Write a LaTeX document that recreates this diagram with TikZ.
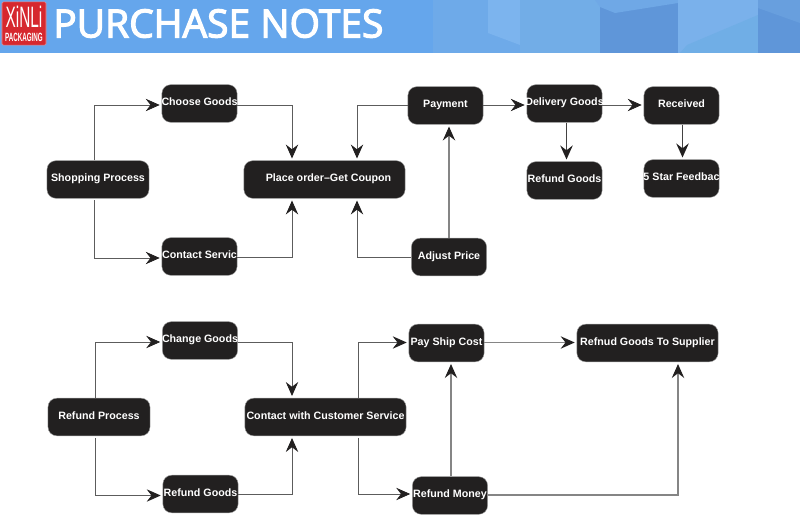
\documentclass[tikz,border=0pt]{standalone}
\usepackage{fontspec}
\setmainfont{Liberation Sans}
\newfontfamily\headfont[FakeBold=3]{Open Sans}
\usepackage{xcolor}
\usetikzlibrary{arrows.meta,positioning}
\definecolor{figBand}{HTML}{65A6EC}
\definecolor{figFacetA}{HTML}{6EAAE9}
\definecolor{figFacetB}{HTML}{7CB4EE}
\definecolor{figFacetC}{HTML}{72ADE7}
\definecolor{figFacetD}{HTML}{5F96D9}
\definecolor{figFacetE}{HTML}{6FA8E6}
\definecolor{figFacetF}{HTML}{7AB1EB}
\definecolor{figFacetG}{HTML}{70AEE6}
\definecolor{figFacetH}{HTML}{689FDE}
\definecolor{figBox}{HTML}{222020}
\definecolor{figLine}{HTML}{5C5C5C}
\definecolor{figLogo}{HTML}{D6282E}
\newcommand{\overlabel}[1]{\makebox[1.8cm]{#1}}

\begin{document}
\begin{tikzpicture}[
  x=0.025cm, y=-0.025cm,
  stepbox/.style={rectangle, rounded corners=2.2mm, draw=figLine!60, line width=0.3pt, fill=figBox,
    text=white, font=\fontsize{7.6}{9}\selectfont\bfseries, inner sep=0pt,
    text height=6pt, text depth=2.5pt,
    minimum height=0.94cm, minimum width=1.88cm, align=center},
  widebox/.style={stepbox, minimum width=4.03cm},
  procbox/.style={stepbox, minimum width=2.55cm},
  arrow/.style={-{Stealth[length=3.5mm,width=3.1mm,inset=1.2mm,color=figBox]}, line width=0.6pt, figLine, shorten >=1.4pt},
  arrowb/.style={arrow, line width=1.2pt, figBox!85},
  arrowg/.style={arrow, line width=0.9pt, figLine!75},
]
\useasboundingbox (0,0) rectangle (800,525);
% === header ===
\fill[figBand] (0,0) rectangle (800,53);
\fill[figFacetA] (433,0) rectangle (520,53);
\fill[figFacetB] (488,0) -- (520,0) -- (520,45) -- (488,33) -- cycle;
\fill[figFacetC] (520,0) rectangle (600,53);
\fill[figFacetD] (600,0) rectangle (678,53);
\fill[figFacetE] (595,0) -- (678,0) -- (678,3) -- (615,13) -- (600,7) -- cycle;
\fill[figFacetF] (678,0) rectangle (758,53);
\fill[figFacetG] (680,53) -- (687,45) -- (758,15) -- (758,53) -- cycle;
\fill[figFacetD] (758,0) rectangle (800,53);
\fill[figFacetH] (758,0) -- (800,0) -- (800,23) -- (758,8) -- cycle;
\node[fill=figLogo, draw=white!45!figLogo, rounded corners=1pt, minimum width=1.1cm, minimum height=1.08cm, inner sep=0pt] (logo) at (24,23.5) {};
\node[text=white, font=\fontsize{21}{21}\selectfont, inner sep=0pt, xscale=0.52] (logotop) at (24,17) {XiNLi};
\node[text=white, font=\fontsize{8.5}{8.5}\selectfont\bfseries, inner sep=0pt, xscale=0.52] (logosub) at (24,37.5) {PACKAGING};
\node[anchor=west, text=white, font=\headfont\fontsize{27.7}{30}\selectfont, inner sep=0pt] (title) at (53,23.5) {PURCHASE NOTES};

% === shopping (top) ===
\node[procbox] (shop) at (98,179.5) {Shopping Process};
\node[stepbox] (choose) at (199.5,103.5) {\overlabel{Choose Goods}};
\node[stepbox] (contact) at (199.5,256.5) {\overlabel{\hspace{0.15cm}Contact Servic..}};
\node[widebox] (order) at (324.5,179.5) {\hspace{0.2cm}Place order--Get Coupon};
\node[stepbox] (pay) at (445.5,105.5) {Payment};
\node[stepbox] (adjust) at (449,257) {Adjust Price};
\node[stepbox] (deliver) at (564.5,103.5) {\overlabel{Delivery Goods}};
\node[stepbox] (refundtop) at (564.5,180.5) {\overlabel{Refund Goods}};
\node[stepbox] (received) at (681.5,105.5) {Received};
\node[stepbox] (feedback) at (681.5,178.5) {\overlabel{5 Star Feedbac}};

\draw[arrow] (shop.north -| 94,0) |- (choose.west |- 0,105);
\draw[arrow, shorten <=1.4pt] (shop.south -| 94,0) |- (contact.west |- 0,258);
\draw[arrow] (choose.east |- 0,105) -| (order.north -| 292,0);
\draw[arrow] (contact.east |- 0,257) -| (order.south -| 292,0);
\draw[arrow] (pay.west |- 0,105) -| (order.north -| 357,0);
\draw[arrow] (adjust.west |- 0,257) -| (order.south -| 357,0);
\draw[arrowg] (adjust.north -| 449,0) -- (pay.south -| 449,0);
\draw[arrow] (pay.east |- 0,105) -- (deliver.west |- 0,105);
\draw[arrow] (deliver.east |- 0,105) -- (received.west |- 0,105);
\draw[arrowb] (deliver.south -| 566.5,0) -- (refundtop.north -| 566.5,0);
\draw[arrowb] (received.south -| 682.5,0) -- (feedback.north -| 682.5,0);

% === refund (bottom) ===
\node[procbox] (refund) at (99,417) {Refund Process};
\node[stepbox] (change) at (200,340.5) {\overlabel{Change Goods}};
\node[stepbox] (refundlow) at (200.5,494) {\overlabel{Refund Goods}};
\node[widebox] (service) at (325.5,417) {Contact with Customer Service};
\node[stepbox] (ship) at (446.5,343) {\overlabel{Pay Ship Cost}};
\node[stepbox] (money) at (450,495.5) {\overlabel{Refund Money}};
\node[stepbox, minimum width=3.53cm] (supplier) at (647.5,343) {Refnud Goods To Supplier};

\draw[arrow] (refund.north -| 95,0) |- (change.west |- 0,342);
\draw[arrow, shorten <=1.4pt] (refund.south -| 95,0) |- (refundlow.west |- 0,495.5);
\draw[arrow] (change.east |- 0,342) -| (service.north -| 292,0);
\draw[arrow] (refundlow.east |- 0,494) -| (service.south -| 292,0);
\draw[arrow] (service.north -| 358,0) |- (ship.west |- 0,342.5);
\draw[arrow, shorten <=1.4pt] (service.south -| 358,0) |- (money.west |- 0,494);
\draw[arrowg] (money.north -| 451,0) -- (ship.south -| 451,0);
\draw[arrowg] (ship.east |- 0,342.5) -- (supplier.west |- 0,342.5);
\draw[arrowg] (money.east |- 0,495) -| (supplier.south -| 678,0);
\end{tikzpicture}
\end{document}
